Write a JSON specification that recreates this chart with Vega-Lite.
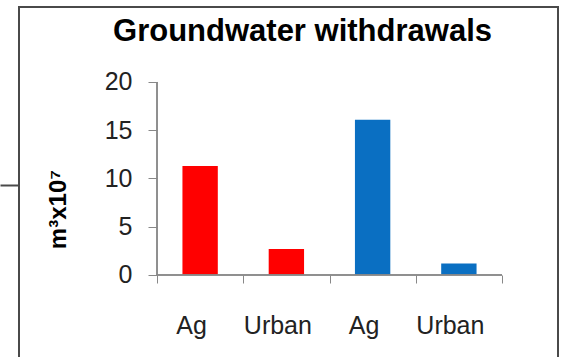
{
  "$schema": "https://vega.github.io/schema/vega-lite/v6.json",
  "width": 539,
  "height": 355,
  "autosize": "none",
  "padding": {"left": 19, "top": 7, "right": 9, "bottom": -5},
  "background": "white",
  "config": {
    "font": "Liberation Sans",
    "view": {"stroke": "#4a4a4a", "strokeWidth": 2}
  },
  "title": {
    "text": "Groundwater withdrawals",
    "font": "Liberation Sans",
    "fontSize": 31,
    "fontWeight": "bold",
    "color": "#000000",
    "anchor": "middle",
    "baseline": "alphabetic",
    "offset": -65,
    "dx": 14
  },
  "data": {
    "values": [
      {"key": "Ag 1", "basin": "A", "withdrawal": 11.3},
      {"key": "Urban 1", "basin": "A", "withdrawal": 2.7},
      {"key": "Ag 2", "basin": "B", "withdrawal": 16.1},
      {"key": "Urban 2", "basin": "B", "withdrawal": 1.2}
    ]
  },
  "resolve": {"axis": {"y": "independent"}},
  "layer": [
    {
      "mark": {"type": "bar", "width": {"band": 0.41}},
      "encoding": {
        "x": {
          "field": "key",
          "type": "nominal",
          "sort": null,
          "scale": {
            "domain": ["Ag 1", "Urban 1", "Ag 2", "Urban 2"],
            "range": [138, 483],
            "paddingInner": 0,
            "paddingOuter": 0
          },
          "axis": {
            "orient": "bottom",
            "offset": -87,
            "title": null,
            "domain": false,
            "grid": false,
            "tickBand": "extent",
            "tickSize": 8,
            "tickColor": "#888888",
            "tickWidth": 1,
            "labelExpr": "split(datum.label, ' ')[0]",
            "labelFont": "Liberation Sans",
            "labelFontSize": 25,
            "labelColor": "#222222",
            "labelPadding": 30,
            "labelAngle": 0,
            "labelOffset": -9
          }
        },
        "y": {
          "field": "withdrawal",
          "type": "quantitative",
          "scale": {"domain": [-9.016, 27.772], "nice": false, "zero": false},
          "axis": {
            "orient": "left",
            "offset": -138,
            "values": [0, 5, 10, 15, 20],
            "domain": false,
            "grid": false,
            "tickSize": 9,
            "tickColor": "#888888",
            "tickWidth": 1,
            "labelFont": "Liberation Sans",
            "labelFontSize": 25,
            "labelColor": "#222222",
            "labelPadding": 16,
            "title": "m³x10⁷",
            "titleFont": "Liberation Sans",
            "titleFontSize": 24,
            "titleFontWeight": "bold",
            "titleColor": "#000000",
            "titleAngle": -90,
            "titleBaseline": "alphabetic",
            "titleAlign": "center",
            "titleX": -92,
            "titleY": 202
          }
        },
        "color": {
          "field": "basin",
          "type": "nominal",
          "scale": {"domain": ["A", "B"], "range": ["#FF0000", "#0A6FC2"]},
          "legend": null
        }
      }
    },
    {
      "mark": {"type": "rule", "color": "#888888", "strokeWidth": 1},
      "encoding": {
        "x": {"datum": "Ag 1", "type": "nominal", "bandPosition": 0},
        "y": {
          "datum": 0,
          "type": "quantitative",
          "axis": {
            "orient": "left",
            "offset": 0,
            "values": [9.33],
            "domain": false,
            "grid": false,
            "labels": false,
            "title": null,
            "tickSize": 19,
            "tickWidth": 2,
            "tickColor": "#4a4a4a"
          }
        },
        "y2": {"datum": 20}
      }
    },
    {
      "mark": {"type": "rule", "color": "#888888", "strokeWidth": 1},
      "encoding": {
        "x": {"datum": "Ag 1", "type": "nominal", "bandPosition": 0},
        "x2": {"datum": "Urban 2", "bandPosition": 1},
        "y": {"datum": 0, "type": "quantitative", "axis": null}
      }
    }
  ]
}
